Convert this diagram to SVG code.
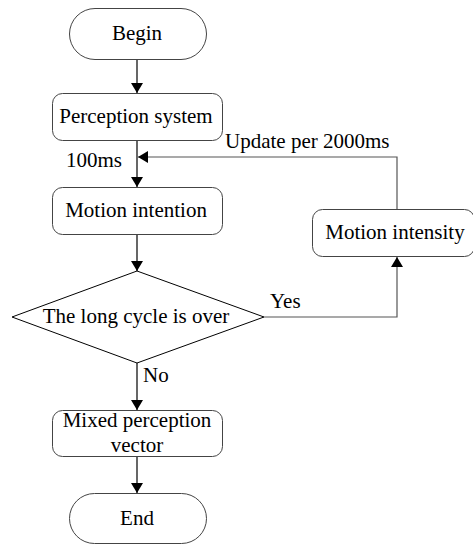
<svg xmlns="http://www.w3.org/2000/svg" width="473" height="544" viewBox="0 0 473 544">
<defs>
<marker id="ah" viewBox="0 0 10 12" refX="10" refY="6" markerWidth="10" markerHeight="12" markerUnits="userSpaceOnUse" orient="auto">
<path d="M0,0 L10,6 L0,12 Z" fill="#000"/>
</marker>
</defs>
<style>
.n{fill:#fff;stroke:#444;stroke-width:1}
.t{font-family:"Liberation Serif","Times New Roman",serif;font-size:21px;fill:#000;text-anchor:middle}
.l{font-family:"Liberation Serif","Times New Roman",serif;font-size:21px;fill:#000}
.c{fill:none;stroke:#000;stroke-width:1.2;marker-end:url(#ah)}
.g{fill:none;stroke:#555;stroke-width:1.2;marker-end:url(#ah)}
</style>
<g id="connectors">
<line class="c" x1="137" y1="59" x2="137" y2="93"/>
<line class="c" x1="137" y1="141" x2="137" y2="187"/>
<line class="c" x1="137" y1="234" x2="137" y2="271"/>
<line class="c" x1="137" y1="363" x2="137" y2="410"/>
<line class="c" x1="137" y1="456" x2="137" y2="493"/>
<path class="g" d="M397,209 V157 H138"/>
<path class="g" d="M264,317 H397 V257"/>
<text class="l" x="225" y="148">Update per 2000ms</text>
<text class="l" x="66" y="167">100ms</text>
<text class="l" x="270" y="308">Yes</text>
<text class="l" x="143" y="382">No</text>
</g>
<g id="begin">
<rect class="n" x="69.5" y="8.5" width="137" height="51" rx="25.5"/>
<text class="t" x="137" y="40">Begin</text>
</g>
<g id="perception">
<rect class="n" x="52.5" y="93.5" width="170" height="47" rx="10"/>
<text class="t" x="136" y="123">Perception system</text>
</g>
<g id="intention">
<rect class="n" x="52.5" y="187.5" width="170" height="47" rx="10"/>
<text class="t" x="136" y="217">Motion intention</text>
</g>
<g id="decision">
<polygon class="n" points="137,271 264,317 137,363 12,317" style="stroke:#000"/>
<text class="t" x="136" y="323">The long cycle is over</text>
</g>
<g id="intensity">
<rect class="n" x="312.5" y="209.5" width="162" height="47" rx="10"/>
<text class="t" x="395" y="239">Motion intensity</text>
</g>
<g id="mixed">
<rect class="n" x="52.5" y="410.5" width="170" height="46" rx="10"/>
<text class="t" x="137" y="427">Mixed perception</text>
<text class="t" x="137" y="452">vector</text>
</g>
<g id="end">
<rect class="n" x="69.5" y="493.5" width="137" height="50" rx="25"/>
<text class="t" x="137" y="525">End</text>
</g>
</svg>
